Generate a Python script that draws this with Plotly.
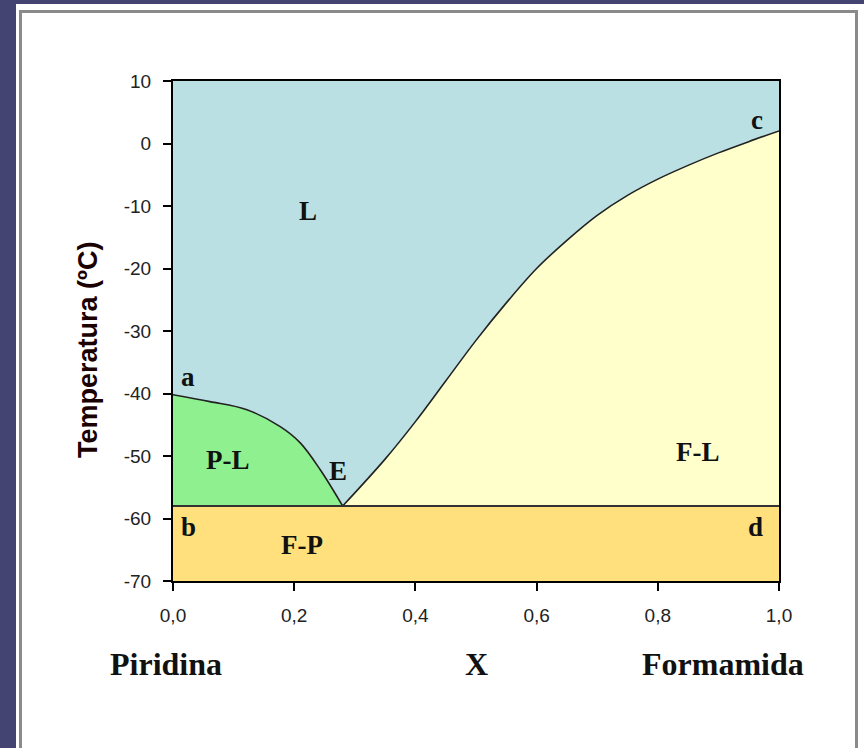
import plotly.graph_objects as go

# Phase diagram: pyridine (P) - formamide (F)
x_ticks = [0.0, 0.2, 0.4, 0.6, 0.8, 1.0]
y_ticks = [10, 0, -10, -20, -30, -40, -50, -60, -70]
y_tick_text = ["10", "0", "-10", "-20", "-30", "-40", "-50", "-60", "-70"]

# temperature window and eutectic temperature (°C)
t_max = 10
t_min = -70
t_eutectic = -58

# liquidus a -> E (pyridine side)
left_x = [0.0, 0.061, 0.122, 0.177, 0.21, 0.243, 0.28]
left_t = [-40.2, -41.3, -42.6, -45.3, -47.9, -52.2, -58.0]

# liquidus E -> c (formamide side)
right_x = [0.28, 0.35, 0.40, 0.45, 0.50, 0.55, 0.60, 0.65, 0.70, 0.75, 0.80, 0.85, 0.90, 0.95, 1.0]
right_t = [-58.0, -50.5, -44.5, -38.0, -31.5, -25.5, -20.0, -15.5, -11.5, -8.3, -5.7, -3.5, -1.5, 0.3, 2.0]

# region labels: (text, x, T)
region_labels = [
    ("L", 0.222, -10.8),
    ("P-L", 0.091, -50.6),
    ("E", 0.272, -52.4),
    ("F-L", 0.866, -49.3),
    ("F-P", 0.213, -64.2),
]
point_labels = [
    ("a", 0.025, -37.4),
    ("b", 0.025, -61.4),
    ("c", 0.964, 3.8),
    ("d", 0.962, -61.4),
]

C_L = "#bbe0e3"
C_PL = "#8ef08e"
C_FL = "#ffffcc"
C_FP = "#ffe07c"
LINE = "#222222"

fig = go.Figure()

# liquid region (whole window, covered below by the other phases)
fig.add_trace(go.Scatter(x=[0, 1], y=[t_min, t_min], mode="lines",
                         line=dict(width=0), hoverinfo="skip", showlegend=False))
fig.add_trace(go.Scatter(x=[0, 1], y=[t_max, t_max], mode="lines",
                         line=dict(width=0), fill="tonexty", fillcolor=C_L,
                         hoverinfo="skip", showlegend=False))

# F-P band (solid phases below eutectic)
fig.add_trace(go.Scatter(x=[0, 1], y=[t_min, t_min], mode="lines",
                         line=dict(width=0), hoverinfo="skip", showlegend=False))
fig.add_trace(go.Scatter(x=[0, 1], y=[t_eutectic, t_eutectic], mode="lines",
                         line=dict(width=0), fill="tonexty", fillcolor=C_FP,
                         hoverinfo="skip", showlegend=False))

# P-L region
fig.add_trace(go.Scatter(x=[0, left_x[-1]], y=[t_eutectic, t_eutectic], mode="lines",
                         line=dict(width=0), hoverinfo="skip", showlegend=False))
fig.add_trace(go.Scatter(x=left_x, y=left_t, mode="lines",
                         line=dict(color=LINE, width=1.6, shape="spline"),
                         fill="tonexty", fillcolor=C_PL, showlegend=False))

# F-L region
fig.add_trace(go.Scatter(x=[right_x[0], 1], y=[t_eutectic, t_eutectic], mode="lines",
                         line=dict(width=0), hoverinfo="skip", showlegend=False))
fig.add_trace(go.Scatter(x=right_x, y=right_t, mode="lines",
                         line=dict(color=LINE, width=1.6, shape="spline"),
                         fill="tonexty", fillcolor=C_FL, showlegend=False))

# eutectic line b-d
fig.add_trace(go.Scatter(x=[0, 1], y=[t_eutectic, t_eutectic], mode="lines",
                         line=dict(color="#333333", width=2), showlegend=False))

# page geometry helpers (pixel -> paper)
L_M, R_M, T_M, B_M = 173, 85, 81, 167
W, H = 864, 748
PW, PH = W - L_M - R_M, H - T_M - B_M


def px(xp):
    return (xp - L_M) / PW


def py(yp):
    return (H - B_M - yp) / PH


shapes = [
    dict(type="rect", xref="paper", yref="paper", layer="below",
         x0=px(16), x1=px(880), y0=py(4), y1=py(780),
         fillcolor="white", line=dict(width=0)),
    dict(type="rect", xref="paper", yref="paper", layer="below",
         x0=px(20.5), x1=px(856.5), y0=py(11.5), y1=py(780),
         fillcolor="rgba(0,0,0,0)", line=dict(color="#8a8a8a", width=3)),
]

serif_family = "Liberation Serif, Times New Roman, serif"
annotations = []
for txt, xv, tv in region_labels + point_labels:
    annotations.append(dict(x=xv, y=tv, xref="x", yref="y", text=txt,
                            showarrow=False, xanchor="center", yanchor="middle",
                            font=dict(family=serif_family, size=27,
                                      color="#111111", weight="bold")))

bottom_labels = [("Piridina", 166), ("X", 476), ("Formamida", 723)]
for txt, xp in bottom_labels:
    annotations.append(dict(x=px(xp), y=py(664), xref="paper", yref="paper", text=txt,
                            showarrow=False, xanchor="center", yanchor="middle",
                            font=dict(family=serif_family, size=32,
                                      color="#111111", weight="bold")))

annotations.append(dict(x=px(88), y=py(350), xref="paper", yref="paper",
                        text="Temperatura (ºC)", textangle=-90, showarrow=False,
                        xanchor="center", yanchor="middle",
                        font=dict(family="Liberation Sans, Arial, sans-serif", size=27,
                                  color="#1a0000", weight="bold")))

tick_font = dict(family="Liberation Sans, Arial, sans-serif", size=19, color="#222222")

fig.update_layout(
    width=W, height=H, autosize=False,
    margin=dict(l=L_M, r=R_M, t=T_M, b=B_M),
    paper_bgcolor="#444473",
    plot_bgcolor=C_L,
    separators=", ",
    shapes=shapes,
    annotations=annotations,
    showlegend=False,
    xaxis=dict(range=[0, 1], tickvals=x_ticks, tickformat=".1f",
               ticks="outside", ticklen=8, tickwidth=2, tickcolor="black",
               showline=True, linecolor="black", linewidth=2, mirror=True,
               showgrid=False, zeroline=False, tickfont=tick_font,
               ticklabelstandoff=8),
    yaxis=dict(range=[t_min, t_max], tickvals=y_ticks, ticktext=y_tick_text,
               ticks="outside", ticklen=8, tickwidth=2, tickcolor="black",
               showline=True, linecolor="black", linewidth=2, mirror=True,
               showgrid=False, zeroline=False, tickfont=tick_font,
               ticklabelstandoff=8),
)

fig.write_html("out.html")
